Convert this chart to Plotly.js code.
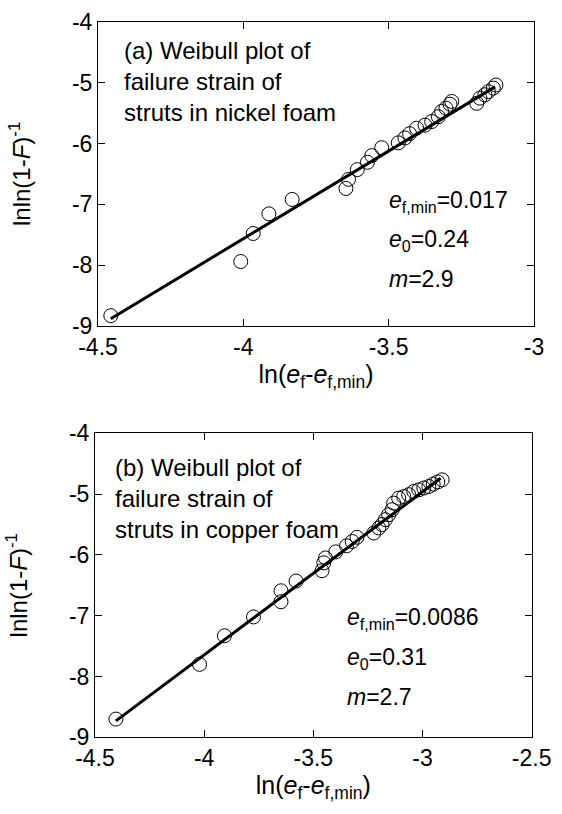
<!DOCTYPE html>
<html>
<head>
<meta charset="utf-8">
<script src="https://cdn.plot.ly/plotly-3.0.1.min.js"></script>
<style>html,body{margin:0;padding:0;background:#fff;}#chart{width:562px;height:814px;}</style>
</head>
<body>
<div id="chart"></div>
<script>
// (a) nickel foam
const nickelX = [-4.456, -4.009, -3.966, -3.912, -3.832, -3.647, -3.638, -3.608, -3.573, -3.558, -3.524, -3.467, -3.444, -3.428, -3.404, -3.375, -3.352, -3.329, -3.318, -3.303, -3.289, -3.283, -3.197, -3.186, -3.169, -3.157, -3.140, -3.131];
const nickelY = [-8.83, -7.94, -7.48, -7.157, -6.92, -6.74, -6.59, -6.43, -6.31, -6.20, -6.07, -5.99, -5.91, -5.84, -5.75, -5.70, -5.64, -5.56, -5.475, -5.42, -5.355, -5.31, -5.34, -5.256, -5.20, -5.148, -5.09, -5.04];
const nickelFitX = [-4.456, -3.134];
const nickelFitY = [-8.88, -5.07];
// (b) copper foam
const copperX = [-4.404, -4.021, -3.907, -3.774, -3.648, -3.648, -3.579, -3.460, -3.452, -3.444, -3.397, -3.348, -3.322, -3.300, -3.223, -3.200, -3.185, -3.170, -3.155, -3.139, -3.132, -3.109, -3.086, -3.063, -3.040, -3.017, -2.994, -2.971, -2.951, -2.930, -2.910];
const copperY = [-8.70, -7.80, -7.33, -7.02, -6.77, -6.59, -6.43, -6.26, -6.13, -6.05, -5.95, -5.85, -5.78, -5.71, -5.64, -5.557, -5.50, -5.42, -5.34, -5.257, -5.148, -5.066, -5.04, -5.01, -4.957, -4.93, -4.90, -4.875, -4.836, -4.80, -4.765];
const copperFitX = [-4.404, -2.917];
const copperFitY = [-8.73, -4.74];

const xTicksA = [-4.5, -4, -3.5, -3];
const xTicksB = [-4.5, -4, -3.5, -3, -2.5];
const yTicks = [-9, -8, -7, -6, -5, -4];

const FONT = 'Liberation Sans, Arial, sans-serif';
const marker = {symbol: 'circle-open', size: 14, color: '#000', line: {width: 1, color: '#000'}};

const traces = [
  {x: nickelFitX, y: nickelFitY, mode: 'lines', line: {color: '#000', width: 3}, xaxis: 'x', yaxis: 'y', hoverinfo: 'skip'},
  {x: nickelX, y: nickelY, mode: 'markers', marker: marker, xaxis: 'x', yaxis: 'y'},
  {x: copperFitX, y: copperFitY, mode: 'lines', line: {color: '#000', width: 3}, xaxis: 'x2', yaxis: 'y2', hoverinfo: 'skip'},
  {x: copperX, y: copperY, mode: 'markers', marker: marker, xaxis: 'x2', yaxis: 'y2'}
];

function axis(extra) {
  return Object.assign({
    showgrid: false, zeroline: false, showline: true, linecolor: '#000', linewidth: 1,
    mirror: 'ticks', ticks: 'inside', ticklen: 7, tickwidth: 1, tickcolor: '#000',
    tickfont: {family: FONT, size: 23, color: '#000'}, fixedrange: true
  }, extra);
}

const xTitle = 'ln(<i>e</i><sub>f</sub>-<i>e</i><sub>f,min</sub>)';
const yTitle = 'lnln(1-<i>F</i>)<sup>-1</sup>';
const AF = {family: FONT, size: 23, color: '#000'};

const layout = {
  width: 562, height: 814,
  margin: {l: 0, r: 0, t: 0, b: 0},
  paper_bgcolor: '#fff', plot_bgcolor: '#fff',
  showlegend: false,
  font: {family: FONT, color: '#000'},
  xaxis: axis({domain: [0.1744, 0.9502], range: [-4.5, -3], tickvals: xTicksA, ticktext: xTicksA.map(String), anchor: 'y',
    title: {text: xTitle, font: {family: FONT, size: 25}, standoff: 4}}),
  yaxis: axis({domain: [0.5995, 0.9733], range: [-9, -4], tickvals: yTicks, ticktext: yTicks.map(String), anchor: 'x',
    title: {text: yTitle, font: {family: FONT, size: 24}, standoff: 34}}),
  xaxis2: axis({domain: [0.169, 0.946], range: [-4.5, -2.5], tickvals: xTicksB, ticktext: xTicksB.map(String), anchor: 'y2',
    title: {text: xTitle, font: {family: FONT, size: 25}, standoff: 6}}),
  yaxis2: axis({domain: [0.0942, 0.4677], range: [-9, -4], tickvals: yTicks, ticktext: yTicks.map(String), anchor: 'x2',
    title: {text: yTitle, font: {family: FONT, size: 24}, standoff: 34}}),
  annotations: [
    {xref: 'x', yref: 'y', x: -4.417, y: -4.22, xanchor: 'left', yanchor: 'top', align: 'left', showarrow: false,
     text: '(a) Weibull plot of<br>failure strain of<br>struts in nickel foam', font: {family: FONT, size: 24, color: '#000'}},
    {xref: 'x', yref: 'y', x: -3.507, y: -6.96, xanchor: 'left', yanchor: 'middle', showarrow: false,
     text: '<i>e</i><sub>f,min</sub>=0.017', font: AF},
    {xref: 'x', yref: 'y', x: -3.507, y: -7.60, xanchor: 'left', yanchor: 'middle', showarrow: false,
     text: '<i>e</i><sub>0</sub>=0.24', font: AF},
    {xref: 'x', yref: 'y', x: -3.507, y: -8.22, xanchor: 'left', yanchor: 'middle', showarrow: false,
     text: '<i>m</i>=2.9', font: AF},
    {xref: 'x2', yref: 'y2', x: -4.419, y: -4.31, xanchor: 'left', yanchor: 'top', align: 'left', showarrow: false,
     text: '(b) Weibull plot of<br>failure strain of<br>struts in copper foam', font: {family: FONT, size: 24, color: '#000'}},
    {xref: 'x2', yref: 'y2', x: -3.353, y: -7.04, xanchor: 'left', yanchor: 'middle', showarrow: false,
     text: '<i>e</i><sub>f,min</sub>=0.0086', font: AF},
    {xref: 'x2', yref: 'y2', x: -3.353, y: -7.70, xanchor: 'left', yanchor: 'middle', showarrow: false,
     text: '<i>e</i><sub>0</sub>=0.31', font: AF},
    {xref: 'x2', yref: 'y2', x: -3.353, y: -8.33, xanchor: 'left', yanchor: 'middle', showarrow: false,
     text: '<i>m</i>=2.7', font: AF}
  ]
};

Plotly.newPlot('chart', traces, layout, {displayModeBar: false, staticPlot: true});
</script>
</body>
</html>
